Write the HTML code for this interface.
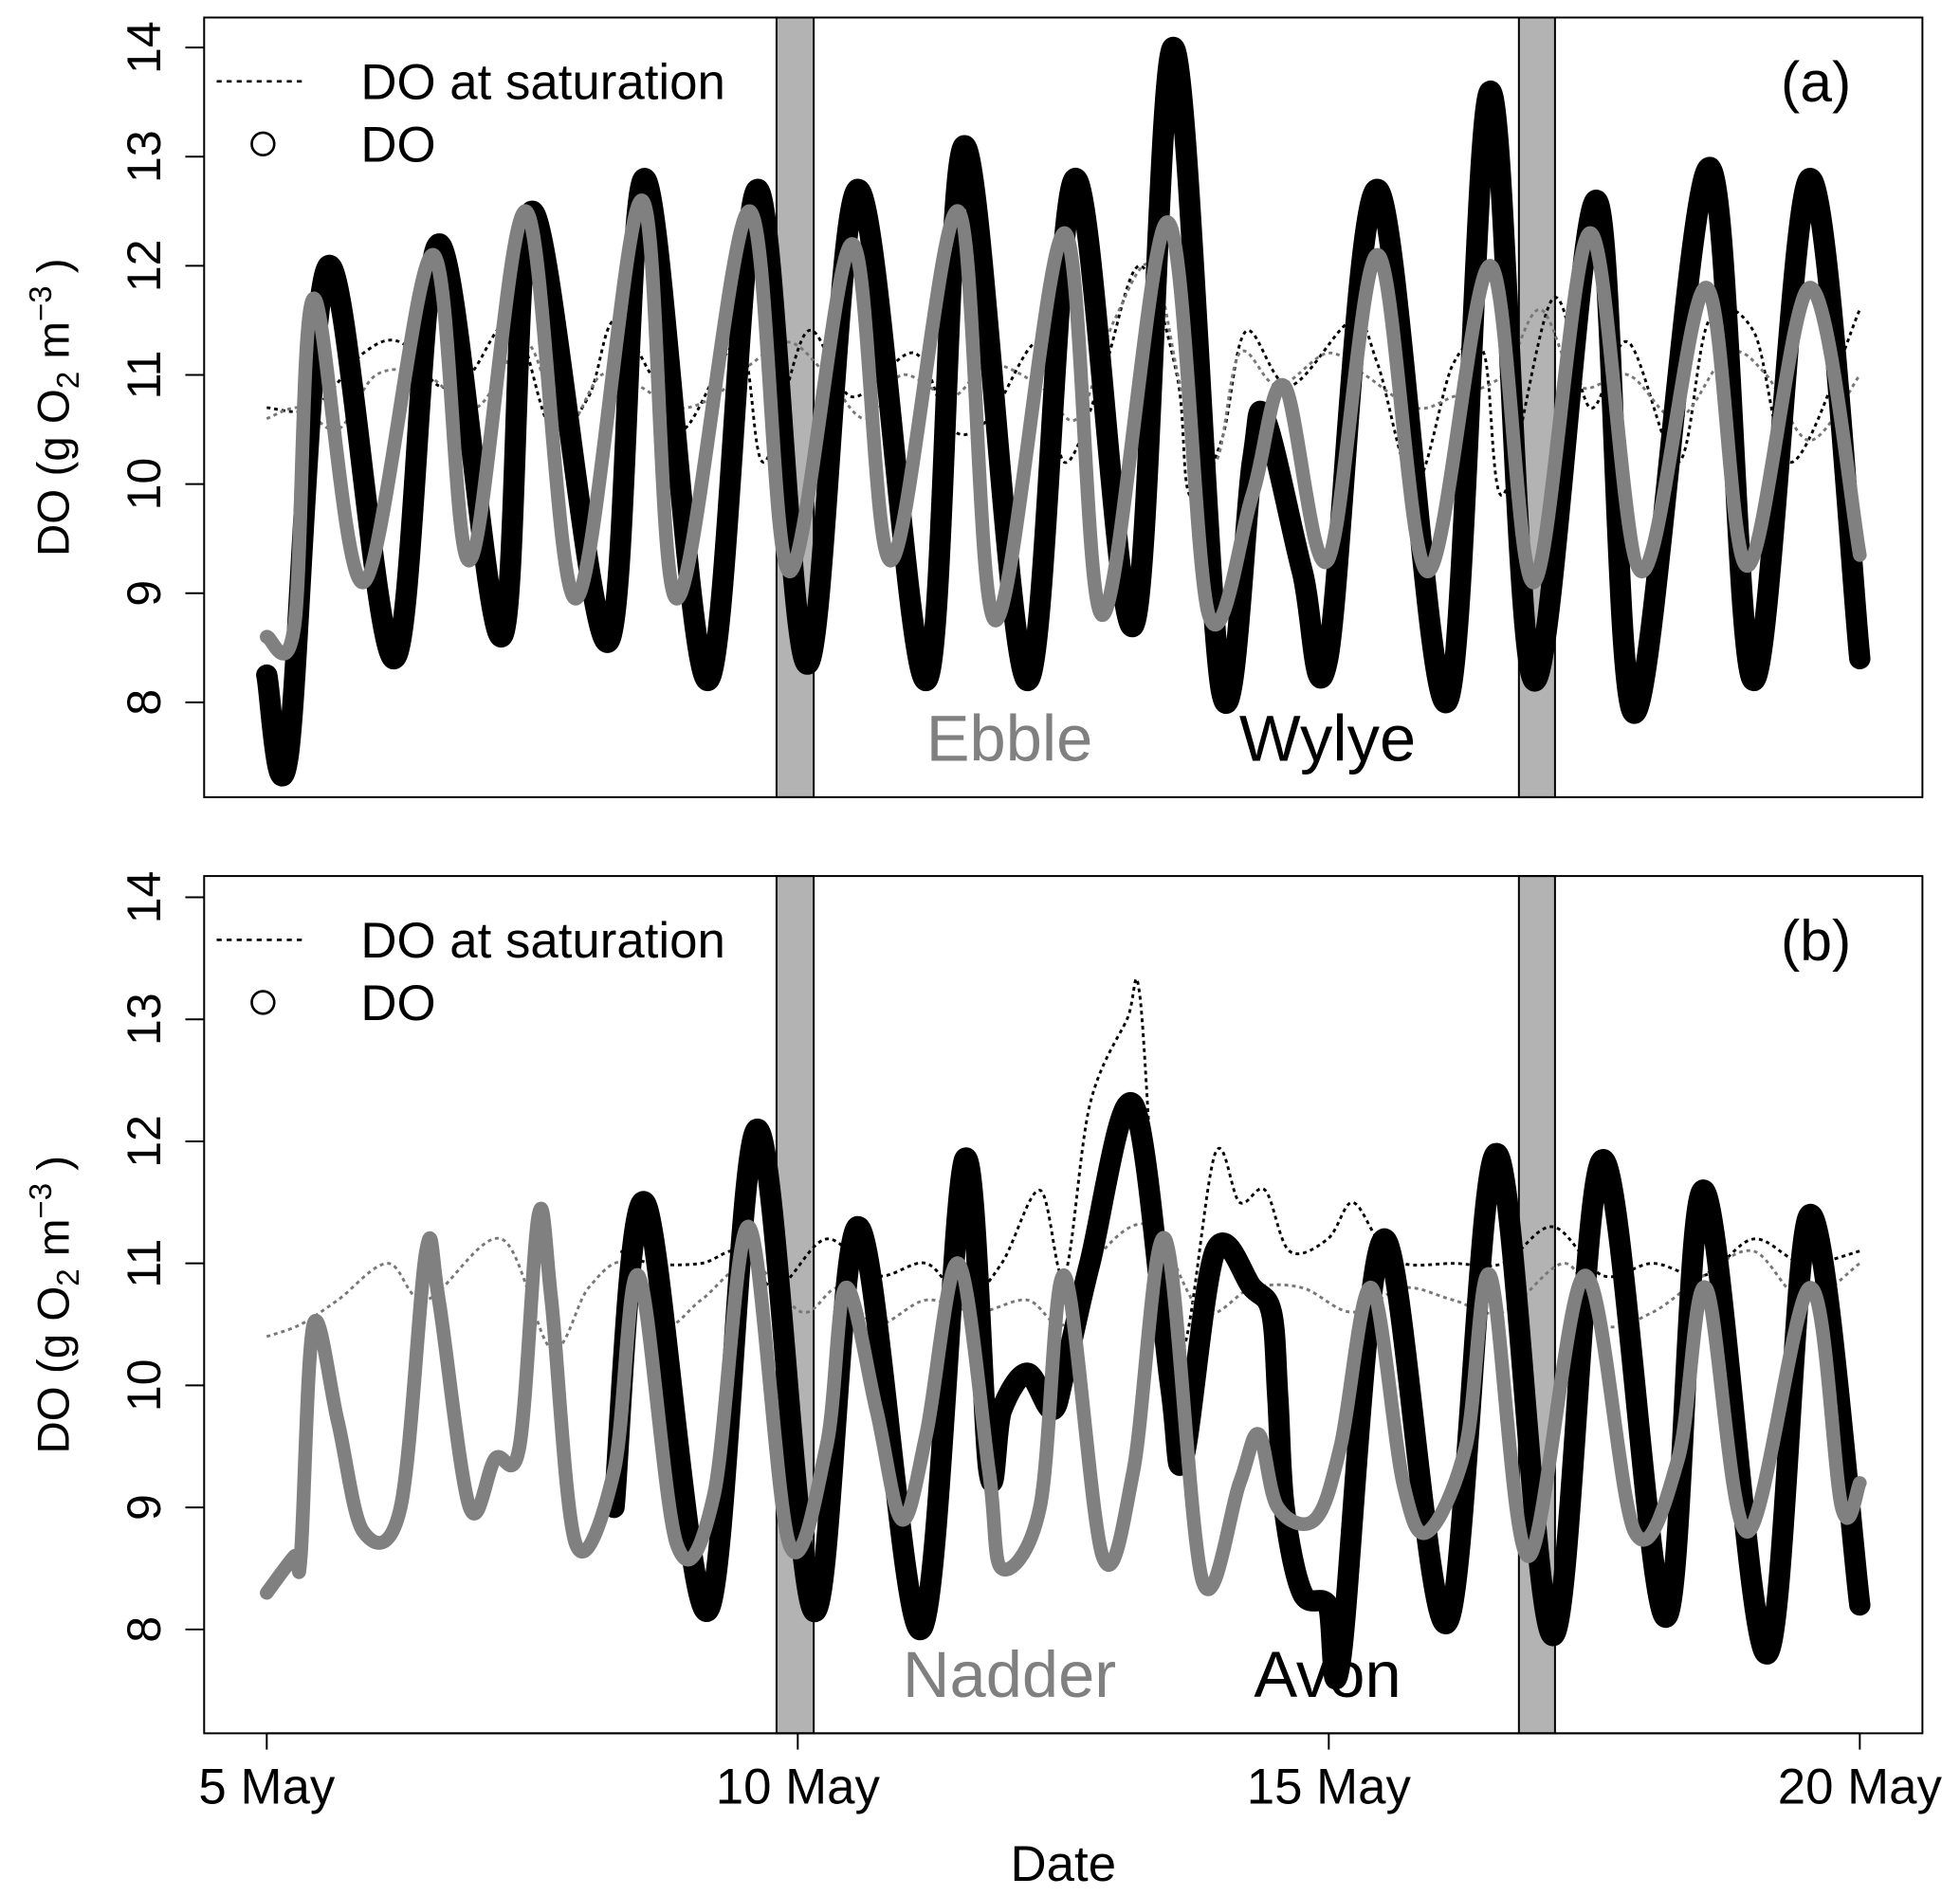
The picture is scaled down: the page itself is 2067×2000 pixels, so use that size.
<!DOCTYPE html>
<html><head><meta charset="utf-8"><style>
html,body{margin:0;padding:0;background:#fff}
svg{display:block;font-family:"Liberation Sans",Arial,sans-serif}
</style></head><body>
<svg id="chart" width="2067" height="2000" viewBox="0 0 1565 1515" preserveAspectRatio="none" xmlns="http://www.w3.org/2000/svg"></svg>
<script>
// ---- data (days since 5 May 00:00, DO g O2 m^-3) ----
const xTickDays = [0, 5, 10, 15];
const xTickLabels = ["5 May", "10 May", "15 May", "20 May"];
const yTicks = [8, 9, 10, 11, 12, 13, 14];
const bandDays = [[4.80, 5.15], [11.79, 12.13]];

const wylyeT = [0,0.20,0.58,1.20,1.62,2.21,2.50,3.21,3.56,4.15,4.62,5.09,5.57,6.21,6.57,7.16,7.61,8.16,8.54,8.99,9.28,9.40,9.75,9.99,10.46,11.11,11.52,11.93,12.52,12.88,13.58,14.00,14.53,15.00];
const wylyeV = [8.25,7.5,12.0,8.4,12.2,8.6,12.5,8.55,12.8,8.2,12.7,8.35,12.7,8.2,13.1,8.2,12.8,8.7,14.0,8.1,10.2,10.6,9.2,8.4,12.7,8.0,13.6,8.2,12.6,7.9,12.9,8.2,12.8,8.4];
const ebbleT = [0,0.26,0.44,0.91,1.56,1.91,2.44,2.91,3.53,3.86,4.54,4.92,5.51,5.88,6.51,6.86,7.51,7.87,8.48,8.87,9.28,9.58,9.99,10.46,10.93,11.52,11.93,12.46,12.94,13.55,13.94,14.53,15.00];
const ebbleV = [8.6,8.7,11.7,9.1,12.1,9.3,12.5,8.95,12.6,8.95,12.5,9.2,12.2,9.3,12.5,8.75,12.3,8.8,12.4,8.8,9.9,10.9,9.3,12.1,9.2,12.0,9.1,12.3,9.2,11.8,9.25,11.8,9.35];
const satAblackT = [0,0.44,0.91,1.26,1.62,1.91,2.32,2.68,3.03,3.27,3.62,3.92,4.45,4.68,5.09,5.51,6.10,6.45,6.80,7.28,7.51,7.87,8.22,8.57,8.69,8.99,9.22,9.63,10.22,10.46,10.81,11.17,11.46,11.64,12.11,12.46,12.82,13.29,13.58,14.00,14.36,15.00];
const satAblackV = [10.7,10.7,11.2,11.3,10.9,11.0,11.5,10.5,10.8,11.5,11.0,10.5,11.3,10.2,11.4,10.8,11.2,10.5,10.6,11.3,10.2,11.0,12.0,11.0,9.9,10.4,11.4,10.9,11.5,11.1,10.0,11.1,11.2,9.9,11.7,10.7,11.3,10.2,11.5,11.4,10.2,11.6];
const satAgrayT = [0,0.32,0.67,1.03,1.50,1.97,2.44,2.79,3.15,3.50,3.86,4.21,4.56,4.92,5.27,5.63,5.98,6.45,6.80,7.28,7.63,7.98,8.34,8.63,8.93,9.16,9.52,9.99,10.34,10.81,11.17,11.64,11.99,12.35,12.82,13.29,13.76,14.12,14.53,15.00];
const satAgrayV = [10.6,10.7,10.5,11.0,11.0,10.7,11.3,10.5,11.0,10.9,10.7,10.8,11.1,11.3,11.0,10.6,11.0,10.8,11.1,10.9,10.6,11.5,12.0,10.8,10.2,11.2,10.9,11.2,11.0,10.7,10.8,11.0,11.6,10.9,11.0,10.6,11.2,11.0,10.4,11.0];

const avonT = [3.27,3.56,4.15,4.62,5.15,5.57,6.16,6.57,6.80,6.92,7.16,7.39,7.51,7.75,8.16,8.51,8.63,8.93,9.28,9.46,9.52,9.58,9.75,9.99,10.11,10.52,11.11,11.58,12.11,12.58,13.17,13.53,14.12,14.53,15.00];
const avonV = [9.0,11.5,8.15,12.1,8.15,11.3,8.0,11.85,9.3,9.8,10.1,9.8,10.1,11.0,12.3,10.0,9.4,11.1,10.8,10.6,9.9,9.0,8.3,8.2,7.75,11.2,8.05,11.9,7.95,11.85,8.1,11.6,7.8,11.4,8.2];
const nadderT = [0,0.26,0.32,0.44,0.67,0.91,1.26,1.50,1.62,1.91,2.15,2.38,2.56,2.68,2.91,3.27,3.50,3.86,4.21,4.54,4.92,5.27,5.45,5.74,5.98,6.21,6.51,6.80,6.92,7.28,7.51,7.87,8.16,8.46,8.81,9.16,9.34,9.52,9.87,10.11,10.40,10.70,10.93,11.29,11.52,11.88,12.41,12.88,13.29,13.55,13.94,14.53,14.83,15.00];
const nadderV = [8.3,8.6,8.6,10.5,9.7,8.8,9.0,11.1,10.7,9.0,9.4,9.5,11.4,10.7,8.7,9.3,10.9,8.7,9.1,11.3,8.7,9.5,10.8,9.8,8.9,9.6,11.0,9.3,8.5,9.0,10.9,8.6,9.3,11.2,8.4,9.2,9.6,9.0,8.9,9.5,10.8,9.2,8.8,9.5,10.9,8.6,10.9,8.8,9.4,10.8,8.8,10.8,9.0,9.2];
const satBblackT = [3.33,3.62,4.09,4.45,4.80,5.27,5.74,6.21,6.57,6.92,7.28,7.51,7.75,8.10,8.22,8.40,8.63,8.93,9.16,9.40,9.63,9.99,10.22,10.46,10.70,11.17,11.64,12.11,12.58,13.05,13.53,14.00,14.47,15.00];
const satBblackV = [11.1,11.0,11.0,11.1,10.8,11.2,10.9,11.0,10.7,11.0,11.6,10.9,12.3,13.0,13.2,11.0,10.3,11.9,11.5,11.6,11.1,11.2,11.5,11.2,11.0,11.0,11.0,11.3,10.9,11.0,10.9,11.2,11.0,11.1];
const satBgrayT = [0,0.32,0.67,1.14,1.50,2.21,2.68,3.03,3.38,3.74,4.09,4.56,5.04,5.39,5.74,6.21,6.69,7.16,7.51,7.87,8.34,8.81,9.28,9.75,10.22,10.70,11.17,11.64,12.23,12.58,13.05,13.53,14.00,14.47,15.00];
const satBgrayV = [10.4,10.5,10.7,11.0,10.7,11.2,10.3,10.8,11.0,10.5,10.7,11.0,10.6,10.8,10.5,10.7,10.6,10.7,10.5,11.1,11.3,10.6,10.8,10.8,10.6,10.8,10.7,10.6,11.0,10.5,10.6,10.9,11.1,10.7,11.0];

// ---- layout ----
const NS = "http://www.w3.org/2000/svg";
const svg = document.getElementById("chart");
const X0 = 213, PXD = 84.8;
const xs = d => X0 + d * PXD;
const panels = [
  {id:"a", top:14, bottom:637, y14:38, pu:87.2, label:"(a)", names:["Ebble","Wylye"],
   series:[[satAblackT,satAblackV,"sat-black"],[satAgrayT,satAgrayV,"sat-gray"]],
   dos:[[wylyeT,wylyeV,"#000",17,"wylye-do-series"],[ebbleT,ebbleV,"#808080",11,"ebble-do-series"]]},
  {id:"b", top:700, bottom:1385, y14:717, pu:97.5, label:"(b)", names:["Nadder","Avon"],
   series:[[satBblackT,satBblackV,"sat-black"],[satBgrayT,satBgrayV,"sat-gray"]],
   dos:[[avonT,avonV,"#000",17,"avon-do-series"],[nadderT,nadderV,"#808080",11,"nadder-do-series"]]}
];
function mk(tag, attrs, parent){const e=document.createElementNS(NS,tag);for(const k in attrs)e.setAttribute(k,attrs[k]);(parent||svg).appendChild(e);return e;}
function smoothPath(P){let d=`M${P[0][0]},${P[0][1]}`;for(let i=0;i<P.length-1;i++){const p0=P[i-1]||P[i],p1=P[i],p2=P[i+1],p3=P[i+2]||P[i+1];
 const c1=[p1[0]+(p2[0]-p0[0])/6,p1[1]+(p2[1]-p0[1])/6],c2=[p2[0]-(p3[0]-p1[0])/6,p2[1]-(p3[1]-p1[1])/6];
 d+=` C${c1[0]},${c1[1]} ${c2[0]},${c2[1]} ${p2[0]},${p2[1]}`;}return d;}

panels.forEach(p=>{
  const ys = v => p.y14 + (14 - v) * p.pu;
  const g = mk("g",{});
  
  
  bandDays.forEach((b,i)=>{
    const r=mk("rect",{x:xs(b[0]),y:p.top,width:xs(b[1])-xs(b[0]),height:p.bottom-p.top,fill:"#b3b3b3",stroke:"#000","stroke-width":1.5},g);
    
    
  });
  p.series.forEach(s=>{
    const pts=s[0].map((t,i)=>[xs(t),ys(s[1][i])]);
    const path=mk("path",{d:smoothPath(pts),fill:"none",stroke:s[2]==="sat-black"?"#000":"#777","stroke-width":2.2,"stroke-dasharray":"3 3"},g);
    
    
  });
  p.dos.forEach(s=>{
    const pts=s[0].map((t,i)=>[xs(t),ys(s[1][i])]);
    const path=mk("path",{d:smoothPath(pts),fill:"none",stroke:s[2],"stroke-width":s[3],"stroke-linejoin":"round","stroke-linecap":"round"},g);
    
    
  });
  const box=mk("rect",{x:163,y:p.top,width:1372,height:p.bottom-p.top,fill:"none",stroke:"#000","stroke-width":1.5},g);
  
  
  yTicks.forEach(v=>{
    mk("line",{x1:163,x2:148,y1:ys(v),y2:ys(v),stroke:"#000","stroke-width":1.5},g);
    const t=mk("text",{x:128,y:ys(v),"font-size":38,"text-anchor":"middle",transform:`rotate(-90 128 ${ys(v)})`},g);
    t.textContent=v;
    
    
  });
  const yl=mk("text",{x:0,y:0,"font-size":36,"text-anchor":"middle",transform:`translate(55 ${(p.top+p.bottom)/2}) rotate(-90)`},g);
  yl.innerHTML='DO  (g O<tspan font-size="25" dy="8">2</tspan><tspan dy="-8"> m</tspan><tspan font-size="25" dy="-14">−3</tspan><tspan dy="14"> )</tspan>';
  
  
  const top=p.top;
  mk("line",{x1:173,x2:242,y1:top+51,y2:top+51,stroke:"#000","stroke-width":2,"stroke-dasharray":"4 4"},g);
  const l1=mk("text",{x:288,y:top+65,"font-size":40},g); l1.textContent="DO at saturation";
  
  
  mk("circle",{cx:210,cy:top+101,r:9,fill:"none",stroke:"#000","stroke-width":2},g);
  const l2=mk("text",{x:288,y:top+115,"font-size":40},g); l2.textContent="DO";
  
  
  const pl=mk("text",{x:1450,y:top+67,"font-size":46,"text-anchor":"middle"},g); pl.textContent=p.label;
  
  
  const n1=mk("text",{x:806,y:p.bottom-29,"font-size":52,"text-anchor":"middle",fill:"#808080"},g); n1.textContent=p.names[0];
  
  
  const n2=mk("text",{x:1060,y:p.bottom-29,"font-size":52,"text-anchor":"middle"},g); n2.textContent=p.names[1];
  
  
});
// x axis
mk("line",{x1:xs(0),x2:xs(15),y1:1385,y2:1385,stroke:"#000","stroke-width":1.5});
xTickDays.forEach((d,i)=>{
  mk("line",{x1:xs(d),x2:xs(d),y1:1385,y2:1398,stroke:"#000","stroke-width":1.5});
  const t=mk("text",{x:xs(d),y:1441,"font-size":40,"text-anchor":"middle"});
  t.textContent=xTickLabels[i];
  
  
});
const xt=mk("text",{x:849,y:1503,"font-size":40,"text-anchor":"middle"}); xt.textContent="Date";


</script>
</body></html>
